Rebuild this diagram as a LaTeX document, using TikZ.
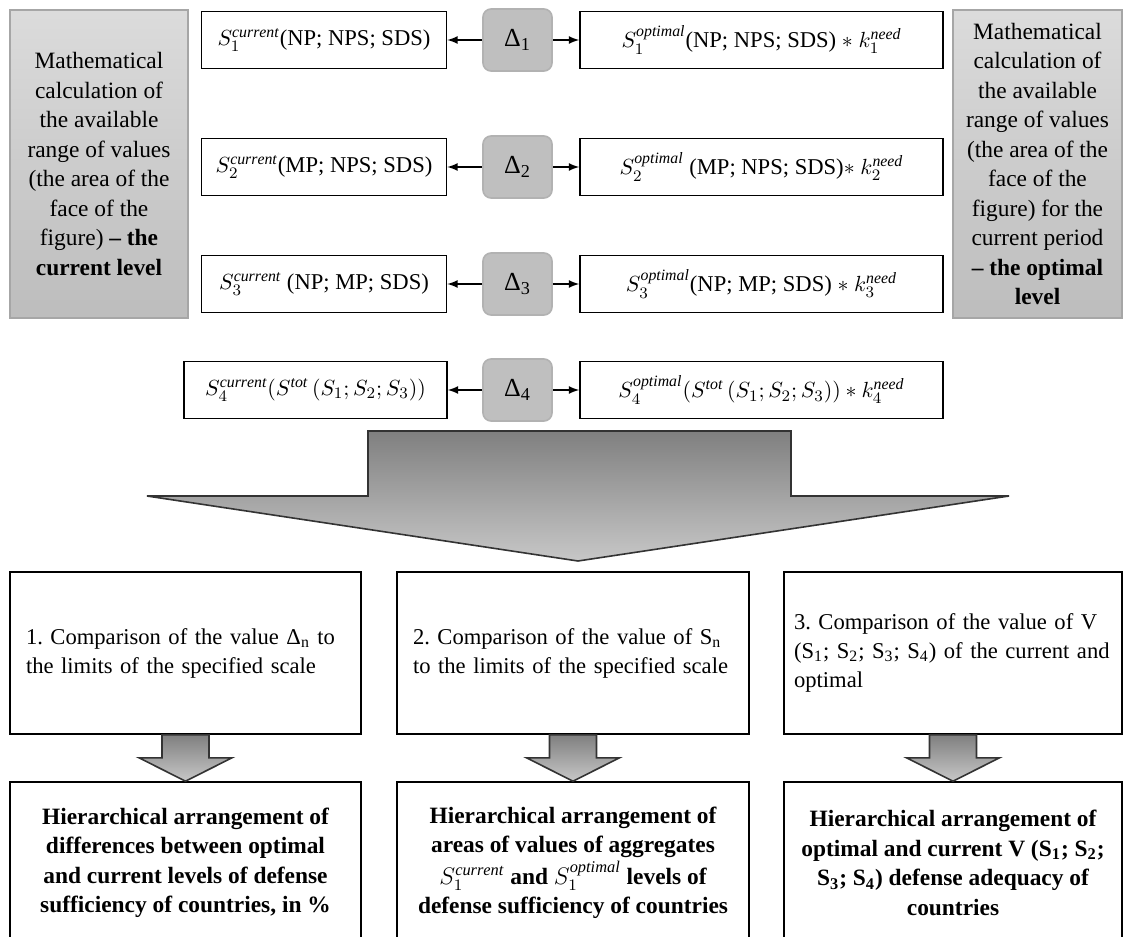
\documentclass[tikz,border=0pt]{standalone}
\usepackage{amsmath}
\usepackage{fontspec}
\setmainfont{Liberation Serif}
\usetikzlibrary{arrows,calc}
\frenchspacing

\begin{document}
\begin{tikzpicture}[x=0.5pt, y=-0.5pt, thick, node distance=63.5pt,
    cell/.style = {draw, fill=white, minimum height=28.5pt, inner sep=1pt, font=\fontsize{11.3}{13}\selectfont},
    delta/.style = {draw=black!30, fill=black!25, rounded corners=4pt, minimum width=34.5pt, minimum height=31pt, font=\fontsize{13}{15}\selectfont},
    side/.style = {draw=black!35, top color=black!14, bottom color=black!26, minimum height=154pt, inner sep=0pt, align=center, font=\fontsize{11.7}{14.75}\selectfont},
    stage/.style = {draw, minimum height=81pt, inner xsep=8pt, align=left, font=\fontsize{11.3}{14.5}\selectfont},
    result/.style = {draw, minimum height=81pt, inner xsep=4pt, align=center, font=\fontsize{11.7}{14.75}\selectfont\bfseries},
    down/.style = {draw=black!80, top color=black!50, bottom color=black!22}]
  \useasboundingbox (0,0) rectangle (1126,937);
  \clip (0,0) rectangle (1126,937);

  \node[side, minimum width=89pt] (lside) at (99,164) {Mathematical\\ calculation of\\ the available\\ range of values\\ (the area of the\\ face of the\\ figure) \textbf{-- the}\\ \textbf{current level}};
  \node[side, minimum width=84.5pt] (rside) at (1037.5,164) {Mathematical\\ calculation of\\ the available\\ range of values\\ (the area of the\\ face of the\\ figure) for the\\ current period\\ \textbf{-- the optimal}\\ \textbf{level}};

  \node[delta] (d1) at (517.5,40) {Δ\textsubscript{1}};
  \node[delta] (d2) [below of=d1] {Δ\textsubscript{2}};
  \node[delta] (d3) [below of=d2, node distance=58.5pt] {Δ\textsubscript{3}};
  \node[delta] (d4) [below of=d3, node distance=53pt] {Δ\textsubscript{4}};

  \node[cell, minimum width=122.5pt] (c1) [left of=d1, node distance=96.75pt] {$S_1^{\mathit{current}}$(NP; NPS; SDS)};
  \node[cell, minimum width=122.5pt] (c2) [left of=d2, node distance=96.75pt] {$S_2^{\mathit{current}}$(MP; NPS; SDS)};
  \node[cell, minimum width=122.5pt] (c3) [left of=d3, node distance=96.75pt] {$S_3^{\mathit{current}}$ (NP; MP; SDS)};
  \node[cell, minimum width=131.5pt] (c4) [left of=d4, node distance=101pt] {$S_4^{\mathit{current}}(S^{\mathit{tot}}\,(S_1;S_2;S_3))$};

  \node[cell, minimum width=181.5pt] (o1) [right of=d1, node distance=122pt] {$S_1^{\mathit{optimal}}$(NP; NPS; SDS) $*\ k_1^{\mathit{need}}$};
  \node[cell, minimum width=181.5pt] (o2) [right of=d2, node distance=122pt] {$S_2^{\mathit{optimal}}$ (MP; NPS; SDS)$*\ k_2^{\mathit{need}}$};
  \node[cell, minimum width=181.5pt] (o3) [right of=d3, node distance=122pt] {$S_3^{\mathit{optimal}}$(NP; MP; SDS) $*\ k_3^{\mathit{need}}$};
  \node[cell, minimum width=181.5pt] (o4) [right of=d4, node distance=122pt] {$S_4^{\mathit{optimal}}(S^{\mathit{tot}}\,(S_1;S_2;S_3)) * k_4^{\mathit{need}}$};

  \path[-latex]
  (d1) edge (c1)
  (d1) edge (o1)
  (d2) edge (c2)
  (d2) edge (o2)
  (d3) edge (c3)
  (d3) edge (o3)
  (d4) edge (c4)
  (d4) edge (o4);

  % big arrow
  \path[down] (368,496) -- (368,431) -- (791,431) -- (791,496) -- (1009,496) -- (578,561) -- (147,496) -- cycle;

  \node[stage, minimum width=175.5pt, text width=159.5pt] (s1) at (185.5,653) {1. Comparison of the value Δ\textsubscript{n} to\\ the limits of the specified scale};
  \node[stage, minimum width=176pt, text width=160pt] (s2) at (573,653) {2. Comparison of the value of S\textsubscript{n}\\ to the limits of the specified scale};
  \node[stage, minimum width=169pt, inner xsep=5pt, text width=159pt] (s3) at (953,653) {3. Comparison of the value of V\\ (S\textsubscript{1}; S\textsubscript{2}; S\textsubscript{3}; S\textsubscript{4}) of the current and\\ optimal};

  \node[result, minimum width=175.5pt] (h1) [below of=s1, node distance=105pt] {Hierarchical arrangement of\\ differences between optimal\\ and current levels of defense\\ sufficiency of countries, in \%};
  \node[result, minimum width=176pt] (h2) [below of=s2, node distance=105pt] {Hierarchical arrangement of\\ areas of values of aggregates\\[1pt] $S_1^{\mathit{current}}$ and $S_1^{\mathit{optimal}}$ levels of\\ defense sufficiency of countries};
  \node[result, minimum width=169pt] (h3) [below of=s3, node distance=105pt] {Hierarchical arrangement of\\ optimal and current V (S\textsubscript{1}; S\textsubscript{2};\\ S\textsubscript{3}; S\textsubscript{4}) defense adequacy of\\ countries};

  \path[down] ($(s1.south)+(-23.5,0)$) -- ++(0,23) -- ++(-23,0) -- (h1.north) -- ($(s1.south)+(46.5,23)$) -- ++(-23,0) -- ($(s1.south)+(23.5,0)$) -- cycle;
  \path[down] ($(s2.south)+(-23.5,0)$) -- ++(0,23) -- ++(-23,0) -- (h2.north) -- ($(s2.south)+(46.5,23)$) -- ++(-23,0) -- ($(s2.south)+(23.5,0)$) -- cycle;
  \path[down] ($(s3.south)+(-23.5,0)$) -- ++(0,23) -- ++(-23,0) -- (h3.north) -- ($(s3.south)+(46.5,23)$) -- ++(-23,0) -- ($(s3.south)+(23.5,0)$) -- cycle;
\end{tikzpicture}
\end{document}
